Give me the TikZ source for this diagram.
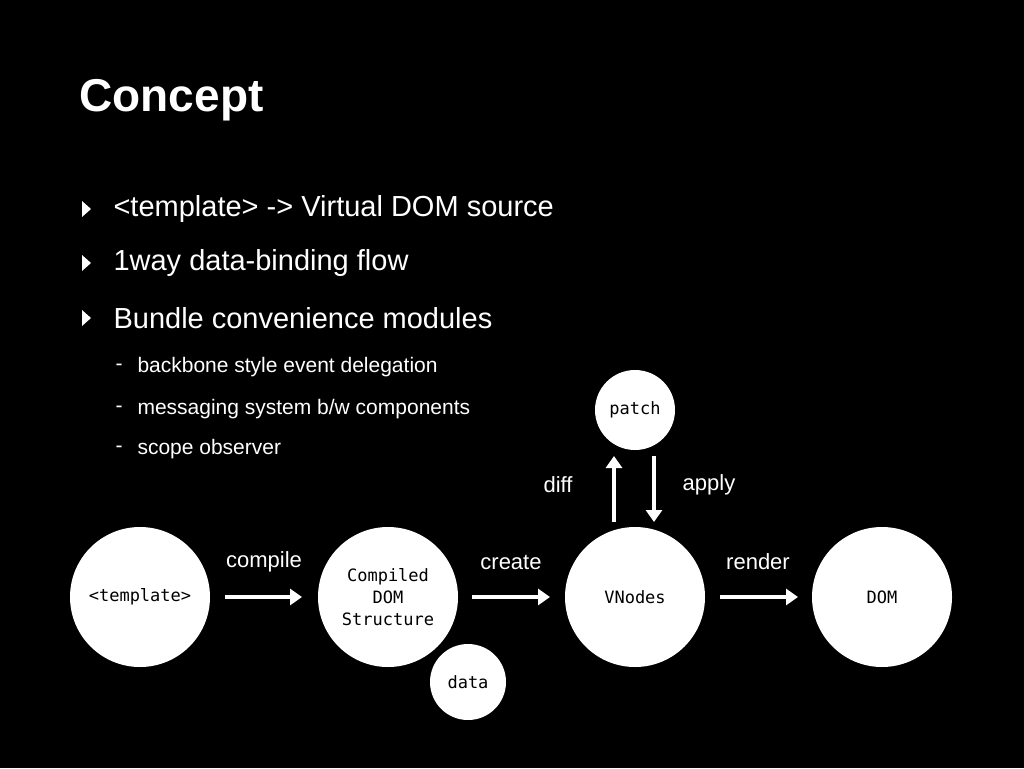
\documentclass[tikz,border=0pt]{standalone}
\usepackage{fontspec}
\setmainfont{Liberation Sans}
\newfontfamily\monof{DejaVu Sans Mono}
\usetikzlibrary{arrows.meta}
\begin{document}
\begin{tikzpicture}[x=1pt,y=-1pt,
  circ/.style={circle,fill=white,inner sep=0pt,minimum size=#1,font=\monof\fontsize{17}{22}\selectfont,align=center,text=black},
  arr/.style={white,line width=4pt,-{Triangle[length=12pt,width=16pt]}},
  lbl/.style={text=white,font=\fontsize{22}{26}\selectfont},
  bul/.style={text=white,anchor=west,font=\fontsize{29}{34}\selectfont},
  sub/.style={text=white,anchor=west,font=\fontsize{21}{26}\selectfont}]
\fill[black] (0,0) rectangle (1024,768);
\useasboundingbox (0,0) rectangle (1024,768);
\node[text=white,anchor=west,font=\bfseries\fontsize{46}{52}\selectfont] (title) at (76,100) {Concept};
\foreach \y/\t [count=\i] in {209/{<template> -> Virtual DOM source},263/{1way data-binding flow},318/{Bundle convenience modules}}{
  \fill[white] (82,\y-8) -- (91,\y) -- (82,\y+8) -- cycle;
  \node[bul] (b\i) at (110,\y) {\t};}
\foreach \y/\t [count=\i] in {367/{backbone style event delegation},409/{messaging system b/w components},449/{scope observer}}{
  \node[sub] (d\i) at (112,\y) {-};
  \node[sub] (s\i) at (134,\y) {\t};}
\node[circ=140pt] (tpl) at (140,597) {<template>};
\node[circ=140pt] (cds) at (388,597) {Compiled\\DOM\\Structure};
\node[circ=140pt] (vn) at (635,597) {VNodes};
\node[circ=140pt] (dom) at (882,597) {DOM};
\node[circ=76pt] (data) at (468,682) {data};
\node[circ=80pt] (patch) at (635,410) {patch};
\coordinate (a1) at (225,597); \coordinate (a2) at (302,597);
\coordinate (b1) at (472,597); \coordinate (b2) at (550,597);
\coordinate (c1) at (720,597); \coordinate (c2) at (798,597);
\draw[arr] (a1) -- (a2); \draw[arr] (b1) -- (b2); \draw[arr] (c1) -- (c2);
\coordinate (u1) at (614,522); \coordinate (u2) at (614,456);
\coordinate (v1) at (654,456); \coordinate (v2) at (654,522);
\draw[arr] (u1) -- (u2); \draw[arr] (v1) -- (v2);
\node[lbl] (l1) at (264,562) {compile};
\node[lbl] (l2) at (511,562) {create};
\node[lbl] (l3) at (758,562) {render};
\node[lbl] (l4) at (558,485) {diff};
\node[lbl] (l5) at (709,485) {apply};
\end{tikzpicture}
\end{document}
